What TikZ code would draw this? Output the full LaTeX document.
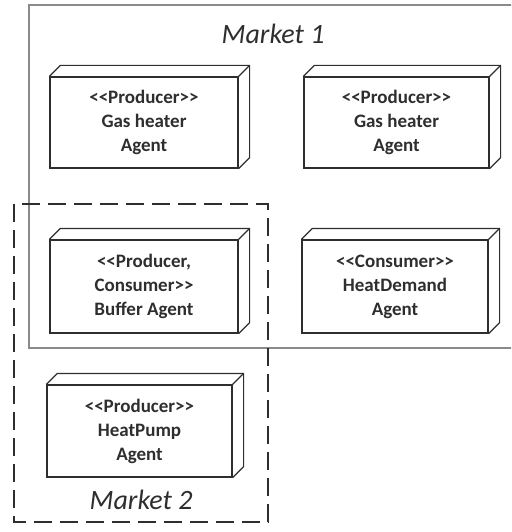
\documentclass[tikz,border=0pt]{standalone}
\usepackage{fontspec}
\setmainfont{Carlito}
\usetikzlibrary{calc}
\definecolor{inkgrey}{HTML}{2E2E2E}
\definecolor{framegrey}{HTML}{8A8A8A}
\tikzset{
  agentbox/.style={draw=inkgrey, line width=1.2pt, rectangle, inner sep=0pt,
    text=inkgrey, align=center,
    font=\fontsize{19}{24}\selectfont\bfseries},
  boxside/.style={draw=inkgrey, line width=1.2pt, line join=round},
  marketone/.style={draw=framegrey, line width=1.5pt},
  markettwo/.style={draw=inkgrey, line width=1.6pt, dash pattern=on 18pt off 8pt},
  marketlabel/.style={text=inkgrey, font=\fontsize{28}{32}\selectfont\itshape}
}
% draws the top and right faces of a 3D node box
\newcommand{\boxdepth}[1]{%
  \draw[boxside] (#1.north west) -- ++(11,-11) -- ($(#1.north east)+(11,-11)$)
    -- ($(#1.south east)+(11,-11)$) -- (#1.south east);
  \draw[boxside] (#1.north east) -- ++(11,-11);
}
\begin{document}
\begin{tikzpicture}[x=1pt,y=-1pt]
  \useasboundingbox (0,0) rectangle (511,532);
  \clip (0,0) rectangle (511,532);

  % Market 1 frame (runs off the right edge)
  \draw[marketone] (29,5) rectangle (530,348);
  \node[marketlabel] (m1) at (273,34) {Market 1};

  % Market 2 frame
  \draw[markettwo] (14,204) rectangle (268,522);
  \node[marketlabel] (m2) at (141,500) {Market 2};

  % agents
  \node[agentbox, minimum width=188pt, minimum height=91pt] (gas1) at (144,122.5)
    {<{}<Producer>{}>\\Gas heater\\Agent};
  \node[agentbox, minimum width=185pt, minimum height=91pt] (gas2) at (396.5,122.5)
    {<{}<Producer>{}>\\Gas heater\\Agent};
  \node[agentbox, minimum width=188pt, minimum height=93pt] (buffer) at (144,286.5)
    {<{}<Producer,\\Consumer>{}>\\Buffer Agent};
  \node[agentbox, minimum width=186pt, minimum height=93pt] (demand) at (395,286.5)
    {<{}<Consumer>{}>\\HeatDemand\\Agent};
  \node[agentbox, minimum width=185pt, minimum height=92pt] (pump) at (139.5,431)
    {<{}<Producer>{}>\\HeatPump\\Agent};

  \boxdepth{gas1}
  \boxdepth{gas2}
  \boxdepth{buffer}
  \boxdepth{demand}
  \boxdepth{pump}
\end{tikzpicture}
\end{document}
